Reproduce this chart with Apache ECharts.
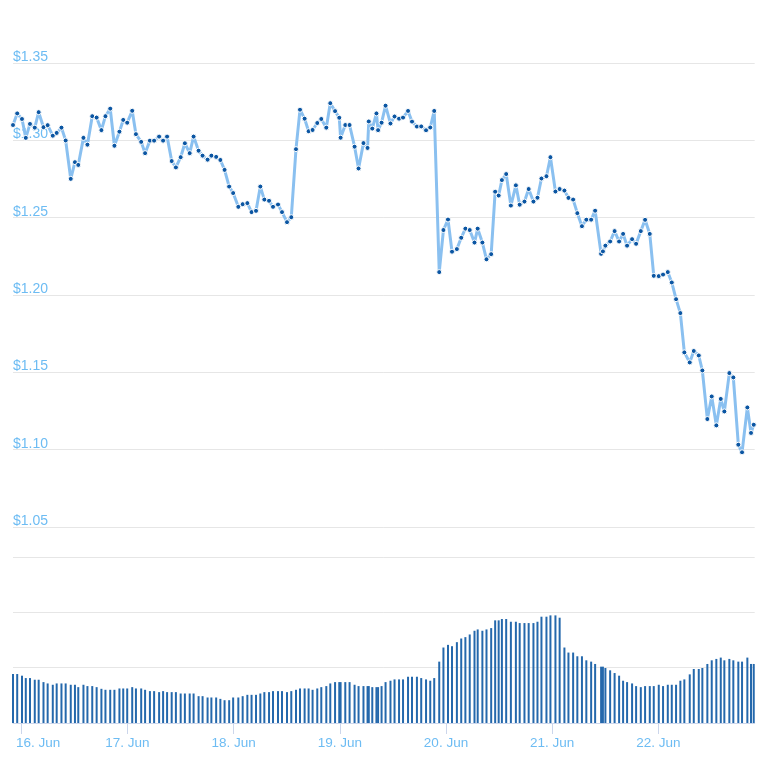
<!DOCTYPE html>
<html>
<head>
<meta charset="utf-8">
<script src="https://cdn.jsdelivr.net/npm/echarts@6/dist/echarts.min.js"></script>
<style>
html,body{margin:0;padding:0;background:#fff;}
#chart{width:768px;height:768px;}
</style>
</head>
<body>
<div id="chart"></div>
<script>
// Time of each sample, hours after 16 Jun 00:00
const hours = [-1.85,-0.90,0.18,1.04,1.99,3.07,3.95,5.04,5.98,7.14,8.02,9.10,10.05,11.20,12.15,12.90,14.07,14.97,16.06,17.05,18.13,19.04,20.12,21.07,22.20,23.06,23.96,25.09,25.93,27.12,28.00,29.09,30.04,31.17,32.07,32.97,34.01,34.96,36.04,36.99,38.08,38.96,40.09,40.99,42.12,42.98,44.06,45.01,45.96,47.00,47.90,49.07,50.05,51.11,52.06,53.07,54.04,54.95,56.01,56.91,58.04,58.94,60.07,61.04,62.10,63.01,64.05,64.95,65.85,66.91,67.82,68.95,69.85,70.93,71.88,72.18,73.24,74.21,75.34,76.24,77.35,78.27,78.55,79.34,80.28,80.65,81.44,82.34,83.45,84.37,85.39,86.29,87.42,88.32,89.43,90.40,91.49,92.44,93.34,94.47,95.42,96.45,97.36,98.46,99.44,100.38,101.36,102.44,103.16,104.22,105.15,106.21,107.11,107.90,108.63,109.60,110.66,111.79,112.65,113.73,114.68,115.76,116.67,117.57,118.70,119.60,120.73,121.68,122.76,123.67,124.73,125.68,126.72,127.71,128.80,129.70,131.05,131.46,132.02,133.09,134.10,135.12,136.02,136.92,138.05,138.96,140.02,140.99,142.05,142.95,144.08,145.05,146.12,147.02,147.99,148.96,149.86,151.08,151.99,153.12,153.93,155.06,156.05,157.09,158.09,158.90,160.03,160.93,162.06,162.90,164.10,164.93,165.54];

const prices = [1.3099,1.3174,1.3138,1.3016,1.3106,1.3082,1.3182,1.3085,1.3098,1.3030,1.3048,1.3082,1.2999,1.2751,1.2859,1.2841,1.3016,1.2972,1.3156,1.3147,1.3066,1.3156,1.3205,1.2965,1.3056,1.3132,1.3114,1.3191,1.3040,1.2990,1.2917,1.2998,1.2998,1.3024,1.2998,1.3024,1.2866,1.2825,1.2891,1.2981,1.2917,1.3024,1.2933,1.2901,1.2875,1.2901,1.2893,1.2873,1.2809,1.2701,1.2659,1.2570,1.2587,1.2594,1.2536,1.2544,1.2701,1.2617,1.2609,1.2570,1.2585,1.2536,1.2471,1.2503,1.2943,1.3198,1.3140,1.3059,1.3067,1.3112,1.3138,1.3082,1.3240,1.3189,1.3146,1.3017,1.3099,1.3099,1.2959,1.2818,1.2982,1.2951,1.3122,1.3076,1.3174,1.3066,1.3114,1.3224,1.3109,1.3154,1.3140,1.3147,1.3190,1.3121,1.3089,1.3090,1.3065,1.3083,1.3190,1.2148,1.2420,1.2488,1.2280,1.2297,1.2370,1.2429,1.2420,1.2339,1.2429,1.2339,1.2231,1.2264,1.2668,1.2643,1.2743,1.2782,1.2578,1.2709,1.2584,1.2604,1.2685,1.2604,1.2629,1.2753,1.2768,1.2891,1.2669,1.2685,1.2675,1.2628,1.2617,1.2529,1.2445,1.2487,1.2487,1.2545,1.2266,1.2282,1.2319,1.2346,1.2413,1.2346,1.2395,1.2319,1.2361,1.2331,1.2413,1.2486,1.2395,1.2124,1.2122,1.2132,1.2148,1.2081,1.1973,1.1883,1.1629,1.1564,1.1638,1.1609,1.1512,1.1198,1.1344,1.1157,1.1328,1.1247,1.1495,1.1467,1.1032,1.0983,1.1273,1.1108,1.1161];

const volumes = [88.5,88.5,85.5,81.2,81.2,78.2,78.2,73.9,71.5,69.1,71.5,71.5,71.5,69.1,69.1,64.8,69.1,66.7,66.7,64.8,61.8,60.0,60.0,60.0,62.4,62.4,62.4,64.8,62.4,62.4,60.0,57.6,57.6,55.8,57.6,55.8,55.8,55.8,53.3,53.3,53.3,53.3,48.5,48.5,46.1,46.1,46.1,43.6,41.2,41.2,46.1,46.1,48.5,50.9,50.9,50.9,53.3,55.8,55.8,57.6,57.6,57.6,55.8,57.6,60.0,62.4,62.4,62.4,60.0,62.4,64.8,66.7,71.5,73.9,73.9,73.9,73.9,73.9,69.1,66.7,66.7,66.7,66.7,64.8,64.8,64.8,66.7,73.9,76.4,78.8,78.8,78.8,83.6,83.6,83.6,81.2,78.8,76.4,81.2,110.9,136.4,141.2,138.8,146.1,152.7,155.2,160.0,166.7,169.1,166.7,169.1,171.5,185.5,185.5,187.9,187.9,183.0,183.0,180.6,180.6,180.6,180.6,183.0,192.1,192.1,194.5,194.5,190.3,136.4,127.3,127.3,120.6,120.6,113.3,110.9,106.7,101.8,101.8,99.4,95.2,90.3,85.5,76.4,73.9,71.5,66.7,64.8,66.7,66.7,66.7,69.1,66.7,69.1,69.1,69.1,76.4,78.8,87.9,97.6,97.6,99.4,106.7,113.3,115.8,118.2,113.3,115.8,113.3,110.9,110.9,118.2,106.7,106.7];

const dayTicks = [0,24,48,72,96,120,144];
const dayLabels = ['16. Jun','17. Jun','18. Jun','19. Jun','20. Jun','21. Jun','22. Jun'];
const priceTicks = [1.05,1.10,1.15,1.20,1.25,1.30,1.35];

const xMin = -1.85, xMax = 165.76;
const labelColor = '#6dbcf3';
const font = '"Liberation Sans", Arial, sans-serif';

const chart = echarts.init(document.getElementById('chart'), null, {renderer:'canvas'});
chart.setOption({
  animation: false,
  backgroundColor: '#ffffff',
  grid: [
    {left: 13, right: 13.3, top: 63, height: 464, containLabel:false, outerBoundsMode:'none'},
    {left: 13, right: 13.3, top: 557, height: 166, containLabel:false, outerBoundsMode:'none'}
  ],
  xAxis: [
    {type:'value', gridIndex:0, min:xMin, max:xMax, show:false},
    {type:'value', gridIndex:1, min:xMin, max:xMax,
     axisLine:{show:true, lineStyle:{color:'#ccd6eb', width:1}},
     axisTick:{show:true, length:11, lineStyle:{color:'#ccd6eb'}, customValues: dayTicks},
     axisLabel:{show:true, customValues: dayTicks, color: labelColor, fontSize:13.5, fontFamily: font, margin: 13,
       hideOverlap:false,
       rich:{pad:{width:34}, t:{color: labelColor, fontSize:13.5, fontFamily: font}},
       formatter: v => {
         const i = dayTicks.indexOf(Math.round(v));
         if (i < 0) return '';
         return i === 0 ? '{pad| }{t|' + dayLabels[i] + '}' : dayLabels[i];
       }},
     splitLine:{show:false}}
  ],
  yAxis: [
    {type:'value', gridIndex:0, min: priceTicks[0], max: priceTicks[priceTicks.length-1], interval:0.05,
     axisLine:{show:false}, axisTick:{show:false},
     axisLabel:{inside:true, margin:0, color: labelColor, fontSize:14, fontFamily: font,
       verticalAlign:'bottom', lineHeight:12, padding:0,
       formatter: v => '$' + v.toFixed(2)},
     splitLine:{show:true, lineStyle:{color:'#e6e6e6', width:1}}},
    {type:'value', gridIndex:1, min:0, max:300, interval:100,
     axisLine:{show:false}, axisTick:{show:false}, axisLabel:{show:false},
     splitLine:{show:true, lineStyle:{color:'#e6e6e6', width:1}}}
  ],
  series: [
    {type:'bar', xAxisIndex:1, yAxisIndex:1, barWidth:2,
     data: hours.map((h,i)=>[h, volumes[i]]),
     itemStyle:{color:'#2468ac'}},
    {type:'line', xAxisIndex:0, yAxisIndex:0, z:3,
     data: hours.map((h,i)=>[h, prices[i]]),
     symbol:'circle', symbolSize:5, showAllSymbol:true,
     lineStyle:{color:'#8ac0f0', width:3},
     itemStyle:{color:'#0b56a3', borderColor:'#ffffff', borderWidth:1}}
  ]
});
</script>
</body>
</html>
